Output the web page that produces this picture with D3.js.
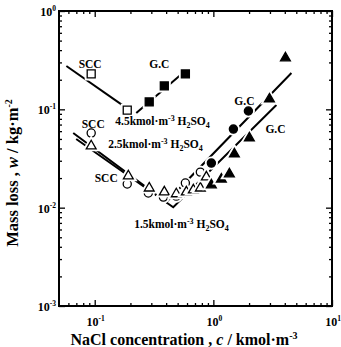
<!DOCTYPE html>
<html><head><meta charset="utf-8">
<script src="https://cdn.jsdelivr.net/npm/d3@7"></script>
<style>body{margin:0;background:#fff}svg{display:block}</style></head>
<body><svg id="c" width="341" height="347"></svg>
<script>
// ---- data (NaCl concentration c [kmol/m3], mass loss w [kg/m2]) ----
const xTickExps = [-1, 0, 1];
const yTickExps = [-3, -2, -1, 0];

// 4.5 kmol/m3 H2SO4 (squares)
const sq45Open = [[0.0934, 0.229], [0.188, 0.098]];
const sq45Filled = [[0.288, 0.119], [0.386, 0.173], [0.581, 0.229]];
const line45Scc = [[0.0577, 0.276], [0.170, 0.111]];
const line45Gc = [[0.224, 0.092], [0.592, 0.251]];

// 2.5 kmol/m3 H2SO4 (circles)
const ci25Open = [[0.0934, 0.0574], [0.188, 0.0174], [0.283, 0.0141], [0.379, 0.0128], [0.487, 0.0131], [0.581, 0.0178], [0.777, 0.0230]];
const ci25Filled = [[0.962, 0.0284], [1.475, 0.0630], [1.974, 0.0961]];
const line25 = [[0.0659, 0.0574], [0.401, 0.0114], [4.55, 0.234]];

// 1.5 kmol/m3 H2SO4 (triangles)
const tr15Open = [[0.0934, 0.0424], [0.192, 0.0210], [0.288, 0.0158], [0.386, 0.0144], [0.487, 0.0138], [0.592, 0.0144], [0.678, 0.0151], [0.777, 0.0158], [0.873, 0.0205]];
const tr15Filled = [[0.962, 0.0170], [1.168, 0.0195], [1.365, 0.0220], [1.504, 0.0351], [2.012, 0.0510], [2.97, 0.127], [4.05, 0.333]];
const line15 = [[0.0698, 0.0499], [0.459, 0.0101], [3.40, 0.1106]];

// annotations
const notes = [
  {t: [["SCC"]], x: 0.0916, y: 0.262, a: "middle"},
  {t: [["G.C"]], x: 0.350, y: 0.263, a: "middle"},
  {t: [["4.5kmol·m"], ["-3", "sup"], [" H"], ["2", "sub"], ["SO"], ["4", "sub"]], x: 0.149, y: 0.0692, a: "start"},
  {t: [["SCC"]], x: 0.0971, y: 0.0645, a: "middle"},
  {t: [["2.5kmol·m"], ["-3", "sup"], [" H"], ["2", "sub"], ["SO"], ["4", "sub"]], x: 0.130, y: 0.0404, a: "start"},
  {t: [["SCC"]], x: 0.125, y: 0.0182, a: "middle"},
  {t: [["1.5kmol·m"], ["-3", "sup"], [" H"], ["2", "sub"], ["SO"], ["4", "sub"]], x: 0.215, y: 0.0062, a: "start"},
  {t: [["G.C"]], x: 1.827, y: 0.1106, a: "middle"},
  {t: [["G.C"]], x: 3.34, y: 0.0574, a: "middle"}
];

// ---- drawing ----
const m = {l: 59, r: 332, t: 11, b: 306};
const svg = d3.select("#c");
const x = d3.scaleLog().domain([0.05, 10]).range([m.l, m.r]);
const y = d3.scaleLog().domain([0.001, 1]).range([m.b, m.t]);
const FONT = "'Liberation Serif','Times New Roman',serif";

function minors(dom) {
  const out = [];
  for (let e = Math.floor(Math.log10(dom[0])); e < Math.ceil(Math.log10(dom[1])); e++) {
    for (let k = 2; k <= 9; k++) {
      const v = k * Math.pow(10, e);
      if (v > dom[0] * 1.0001 && v < dom[1] * 0.9999) out.push(v);
    }
  }
  return out;
}

const g = svg.append("g");
const majX = xTickExps.map(e => Math.pow(10, e));
const majY = yTickExps.map(e => Math.pow(10, e));

function addAxis(axisFn, scale, vals, size, transform) {
  g.append("g").attr("transform", transform)
    .call(axisFn(scale).tickValues(vals).tickSize(size).tickFormat(""))
    .call(s => s.select(".domain").remove())
    .call(s => s.selectAll("line").attr("stroke", "#000").attr("stroke-width", 1.3));
}
addAxis(d3.axisTop, x, majX, 6, `translate(0,${m.b})`);
addAxis(d3.axisTop, x, minors(x.domain()), 3, `translate(0,${m.b})`);
addAxis(d3.axisBottom, x, majX, 6, `translate(0,${m.t})`);
addAxis(d3.axisBottom, x, minors(x.domain()), 3, `translate(0,${m.t})`);
addAxis(d3.axisRight, y, majY, 6, `translate(${m.l},0)`);
addAxis(d3.axisRight, y, minors(y.domain()), 3, `translate(${m.l},0)`);
addAxis(d3.axisLeft, y, majY, 6, `translate(${m.r},0)`);
addAxis(d3.axisLeft, y, minors(y.domain()), 3, `translate(${m.r},0)`);

g.append("rect").attr("x", m.l).attr("y", m.t).attr("width", m.r - m.l).attr("height", m.b - m.t)
  .attr("fill", "none").attr("stroke", "#000").attr("stroke-width", 2);

// tick labels
xTickExps.forEach(e => {
  const t = g.append("text").attr("x", x(Math.pow(10, e)) + 1).attr("y", m.b + 20)
    .attr("text-anchor", "middle").attr("font-family", FONT).attr("font-weight", "bold").attr("font-size", 12);
  t.append("tspan").text("10");
  t.append("tspan").attr("font-size", 7.5).attr("dy", -5).text(String(e));
});
yTickExps.forEach(e => {
  const t = g.append("text").attr("x", m.l - 3).attr("y", y(Math.pow(10, e)) + 5)
    .attr("text-anchor", "end").attr("font-family", FONT).attr("font-weight", "bold").attr("font-size", 12);
  t.append("tspan").text("10");
  t.append("tspan").attr("font-size", 7.5).attr("dy", -5).text(String(e));
});

// axis titles
const xt = g.append("text").attr("x", 184).attr("y", 345).attr("text-anchor", "middle")
  .attr("font-family", FONT).attr("font-weight", "bold").attr("font-size", 16);
xt.append("tspan").text("NaCl concentration , ");
xt.append("tspan").attr("font-style", "italic").text("c");
xt.append("tspan").text(" / kmol·m");
xt.append("tspan").attr("font-size", 10).attr("dy", -6).text("-3");

const yt = g.append("text").attr("transform", "translate(18,173) rotate(-90)").attr("text-anchor", "middle")
  .attr("font-family", FONT).attr("font-weight", "bold").attr("font-size", 16.5);
yt.append("tspan").text("Mass loss , ");
yt.append("tspan").attr("font-style", "italic").text("w");
yt.append("tspan").text(" / kg·m");
yt.append("tspan").attr("font-size", 10).attr("dy", -6).text("-2");

// lines
const lineGen = d3.line().x(d => x(d[0])).y(d => y(d[1]));
[line45Scc, line45Gc, line25, line15].forEach(L => {
  g.append("path").attr("d", lineGen(L)).attr("fill", "none").attr("stroke", "#000").attr("stroke-width", 2);
});

// markers
const sqSym = d3.symbol().type(d3.symbolSquare).size(64)();
const ciSym = d3.symbol().type(d3.symbolCircle).size(52)();
const trSym = d3.symbol().type(d3.symbolTriangle).size(42)();
function markers(data, path, filled) {
  const sel = g.append("g").selectAll("g").data(data).join("g")
    .attr("transform", d => `translate(${x(d[0])},${y(d[1])})`);
  sel.append("path").attr("d", path).attr("fill", "#fff").attr("stroke", "#fff").attr("stroke-width", 5);
  sel.append("path").attr("d", path).attr("fill", filled ? "#000" : "#fff").attr("stroke", "#000").attr("stroke-width", 1.3);
}
markers(sq45Open, sqSym, false);
markers(sq45Filled, sqSym, true);
markers(ci25Open, ciSym, false);
markers(ci25Filled, ciSym, true);
markers(tr15Open, trSym, false);
markers(tr15Filled, trSym, true);

// annotations
notes.forEach(n => {
  const t = g.append("text").attr("x", x(n.x)).attr("y", y(n.y)).attr("text-anchor", n.a)
    .attr("font-family", FONT).attr("font-weight", "bold").attr("font-size", 11.5);
  let shift = 0;
  n.t.forEach(p => {
    const ts = t.append("tspan").text(p[0]);
    let target = 0;
    if (p[1] === "sup") { ts.attr("font-size", 8); target = -4; }
    else if (p[1] === "sub") { ts.attr("font-size", 8); target = 3; }
    ts.attr("dy", target - shift);
    shift = target;
  });
});
</script></body></html>
